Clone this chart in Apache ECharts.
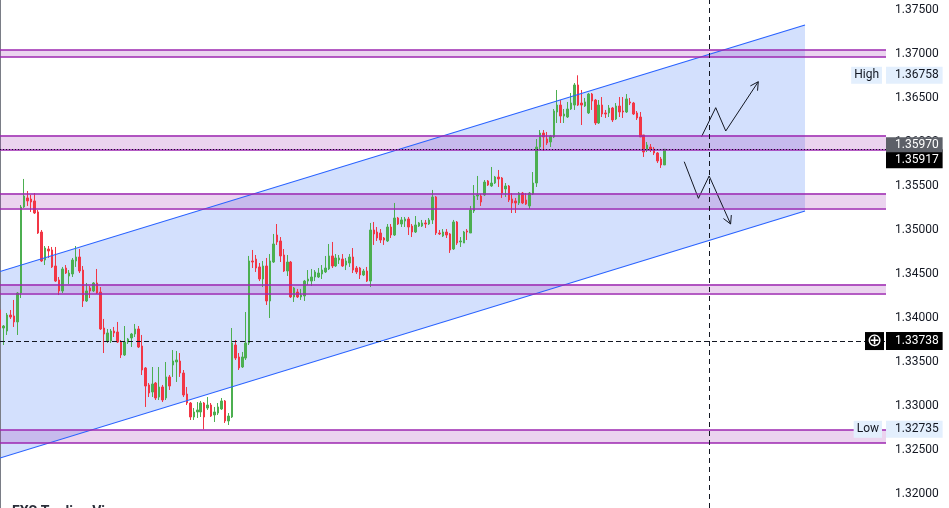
<!DOCTYPE html>
<html><head><meta charset="utf-8">
<script src="https://cdn.jsdelivr.net/npm/echarts@6/dist/echarts.min.js"></script>
<style>html,body{margin:0;padding:0;background:#fff;overflow:hidden}#c{width:949px;height:508px}</style>
</head><body><div id="c"></div>
<script>
const opens=[1.34091,1.33886,1.33852,1.34034,1.34023,1.33955,1.34284,1.35261,1.35364,1.35352,
1.35330,1.35205,1.34977,1.34659,1.34784,1.34773,1.34591,1.34432,1.34307,1.34568,
1.34477,1.34500,1.34648,1.34693,1.34545,1.34193,1.34341,1.34307,1.34398,1.34295,
1.33886,1.33739,1.33739,1.33852,1.33841,1.33727,1.33580,1.33727,1.33773,1.33818,
1.33875,1.33682,1.33432,1.33239,1.33159,1.33261,1.33102,1.33216,1.33091,1.33330,
1.33466,1.33500,1.33511,1.33375,1.33136,1.33034,1.32875,1.32932,1.32932,1.33034,
1.32977,1.33011,1.32898,1.32920,1.32966,1.33057,1.32830,1.32875,1.33693,1.33557,
1.33443,1.33545,1.33716,1.34648,1.34670,1.34580,1.34443,1.34591,1.34193,1.34636,
1.34943,1.34875,1.34716,1.34534,1.34636,1.34239,1.34295,1.34239,1.34250,1.34420,
1.34420,1.34466,1.34466,1.34500,1.34523,1.34557,1.34705,1.34591,1.34659,1.34670,
1.34602,1.34625,1.34693,1.34568,1.34568,1.34489,1.34534,1.34420,1.35000,1.34977,
1.34966,1.34909,1.34875,1.35034,1.34943,1.35136,1.35068,1.35102,1.35125,1.35045,
1.34977,1.35045,1.35045,1.35080,1.35068,1.35114,1.35375,1.34966,1.34932,1.34977,
1.34955,1.34784,1.35091,1.34864,1.34852,1.34989,1.34966,1.35216,1.35386,1.35386,
1.35398,1.35557,1.35500,1.35534,1.35602,1.35591,1.35466,1.35500,1.35352,1.35330,
1.35307,1.35420,1.35341,1.35273,1.35409,1.35534,1.35943,1.36102,1.36034,1.36000,
1.36057,1.36341,1.36420,1.36295,1.36284,1.36375,1.36420,1.36648,1.36443,1.36409,
1.36330,1.36545,1.36477,1.36216,1.36420,1.36330,1.36330,1.36386,1.36261,1.36409,
1.36352,1.36341,1.36455,1.36443,1.36330,1.36284,1.36080,1.35909,1.35943,1.35920,
1.35875,1.35807,1.35739];
const closes=[1.33886,1.33909,1.34034,1.34011,1.33955,1.34284,1.35261,1.35386,1.35330,1.35318,
1.35193,1.34966,1.34648,1.34795,1.34761,1.34580,1.34420,1.34307,1.34557,1.34511,
1.34511,1.34659,1.34693,1.34534,1.34193,1.34307,1.34307,1.34398,1.34284,1.33875,
1.33818,1.33830,1.33852,1.33830,1.33727,1.33580,1.33727,1.33761,1.33818,1.33875,
1.33670,1.33409,1.33227,1.33148,1.33250,1.33091,1.33216,1.33068,1.33330,1.33227,
1.33511,1.33523,1.33375,1.33125,1.33034,1.32875,1.32932,1.32955,1.33034,1.32875,
1.33011,1.32886,1.32932,1.32989,1.33057,1.32830,1.32886,1.33716,1.33545,1.33432,
1.33557,1.33716,1.34648,1.34636,1.34568,1.34443,1.34591,1.34193,1.34648,1.34841,
1.34864,1.34705,1.34534,1.34636,1.34239,1.34341,1.34239,1.34261,1.34420,1.34443,
1.34466,1.34523,1.34511,1.34545,1.34568,1.34705,1.34591,1.34682,1.34682,1.34591,
1.34648,1.34693,1.34545,1.34523,1.34489,1.34534,1.34420,1.35000,1.34955,1.34909,
1.34886,1.34886,1.35034,1.34943,1.35136,1.35068,1.35114,1.35125,1.35034,1.34977,
1.35057,1.35080,1.35080,1.35068,1.35114,1.35375,1.34966,1.34955,1.34977,1.34943,
1.34773,1.35091,1.34852,1.34875,1.34977,1.34977,1.35227,1.35386,1.35398,1.35318,
1.35545,1.35511,1.35534,1.35602,1.35580,1.35420,1.35500,1.35341,1.35307,1.35307,
1.35420,1.35307,1.35295,1.35420,1.35534,1.35943,1.36102,1.36057,1.35989,1.36068,
1.36352,1.36420,1.36295,1.36318,1.36375,1.36443,1.36648,1.36420,1.36420,1.36455,
1.36545,1.36466,1.36216,1.36420,1.36318,1.36318,1.36386,1.36250,1.36409,1.36341,
1.36341,1.36489,1.36443,1.36318,1.36273,1.36057,1.35886,1.35966,1.35909,1.35875,
1.35784,1.35739,1.35917];
const lows=[1.33773,1.33693,1.33807,1.33989,1.33898,1.33807,1.34227,1.35250,1.35273,1.35205,
1.35182,1.34955,1.34636,1.34602,1.34682,1.34568,1.34409,1.34261,1.34284,1.34500,
1.34386,1.34466,1.34580,1.34511,1.34125,1.34182,1.34227,1.34295,1.34273,1.33864,
1.33602,1.33716,1.33716,1.33784,1.33716,1.33545,1.33568,1.33705,1.33670,1.33784,
1.33659,1.33352,1.32989,1.33102,1.33102,1.33068,1.33068,1.33045,1.33068,1.33182,
1.33330,1.33273,1.33330,1.33102,1.33011,1.32841,1.32841,1.32864,1.32875,1.32735,
1.32955,1.32875,1.32818,1.32898,1.32955,1.32807,1.32784,1.32864,1.33523,1.33409,
1.33432,1.33523,1.33693,1.34568,1.34523,1.34420,1.34352,1.34148,1.34000,1.34625,
1.34830,1.34636,1.34523,1.34477,1.34227,1.34182,1.34227,1.34205,1.34193,1.34375,
1.34364,1.34420,1.34455,1.34443,1.34511,1.34545,1.34568,1.34580,1.34614,1.34580,
1.34545,1.34580,1.34511,1.34500,1.34443,1.34477,1.34409,1.34352,1.34830,1.34875,
1.34852,1.34830,1.34864,1.34909,1.34932,1.35057,1.35034,1.35034,1.34943,1.34920,
1.34966,1.35034,1.35034,1.35023,1.35057,1.35068,1.34943,1.34943,1.34920,1.34909,
1.34739,1.34773,1.34830,1.34807,1.34852,1.34886,1.34966,1.35193,1.35341,1.35273,
1.35386,1.35500,1.35489,1.35523,1.35489,1.35364,1.35375,1.35318,1.35193,1.35193,
1.35284,1.35295,1.35284,1.35239,1.35398,1.35489,1.35909,1.35898,1.35966,1.35943,
1.36045,1.36216,1.36216,1.36216,1.36273,1.36364,1.36364,1.36409,1.36193,1.36398,
1.36318,1.36364,1.36193,1.36205,1.36284,1.36273,1.36284,1.36227,1.36250,1.36284,
1.36273,1.36330,1.36420,1.36307,1.36250,1.36057,1.35830,1.35886,1.35886,1.35852,
1.35761,1.35705,1.35739];
const highs=[1.34227,1.33920,1.34057,1.34091,1.34205,1.34295,1.35284,1.35580,1.35443,1.35398,
1.35420,1.35227,1.35000,1.34818,1.34818,1.34807,1.34807,1.34466,1.34580,1.34602,
1.34545,1.34682,1.34818,1.34784,1.34591,1.34398,1.34364,1.34409,1.34557,1.34352,
1.33989,1.33875,1.33875,1.33898,1.33955,1.33750,1.33909,1.33773,1.33830,1.33932,
1.33909,1.33807,1.33443,1.33261,1.33443,1.33273,1.33443,1.33239,1.33500,1.33352,
1.33636,1.33625,1.33602,1.33409,1.33216,1.33045,1.32977,1.33045,1.33057,1.33045,
1.33102,1.33034,1.32989,1.33034,1.33091,1.33068,1.32920,1.33886,1.33750,1.33602,
1.33614,1.34068,1.34705,1.34773,1.34716,1.34625,1.34648,1.34682,1.34727,1.34955,
1.35068,1.34920,1.34784,1.34716,1.34648,1.34352,1.34330,1.34330,1.34432,1.34545,
1.34557,1.34545,1.34568,1.34602,1.34705,1.34841,1.34864,1.34727,1.34716,1.34727,
1.34682,1.34727,1.34795,1.34591,1.34580,1.34557,1.34580,1.35080,1.35091,1.35034,
1.35011,1.34920,1.35068,1.35068,1.35307,1.35148,1.35148,1.35148,1.35148,1.35068,
1.35159,1.35091,1.35114,1.35114,1.35136,1.35455,1.35386,1.35000,1.35011,1.35011,
1.34966,1.35114,1.35102,1.34920,1.34989,1.35011,1.35273,1.35511,1.35614,1.35409,
1.35568,1.35568,1.35716,1.35614,1.35682,1.35602,1.35534,1.35511,1.35420,1.35364,
1.35432,1.35432,1.35420,1.35432,1.35659,1.36034,1.36136,1.36136,1.36114,1.36080,
1.36375,1.36591,1.36477,1.36375,1.36455,1.36557,1.36670,1.36758,1.36591,1.36500,
1.36557,1.36557,1.36489,1.36477,1.36511,1.36364,1.36420,1.36398,1.36443,1.36511,
1.36511,1.36545,1.36500,1.36455,1.36352,1.36341,1.36080,1.36000,1.35977,1.35943,
1.35886,1.35830,1.35920];

const slotCount = 257;
const priceTicks = [1.320,1.325,1.330,1.335,1.340,1.345,1.350,1.355,1.360,1.365,1.370,1.375];
const zones = [[1.37045,1.36969],[1.36076,1.35915],[1.35417,1.35247],[1.34383,1.34281],[1.32727,1.32580]];
const channelUpper = [[0,1.34528],[232.6,1.37330]];
const channelLower = [[0,1.32409],[232.6,1.35216]];
const arrowUp = [[202.7,1.36060],[206.8,1.36390],[209.7,1.36125],[219.1,1.36685]];
const arrowDown = [[197.7,1.35776],[201.8,1.35360],[204.9,1.35614],[211.1,1.35068]];
const lastPrice = 1.35917, refPrice = 1.35970, crossPrice = 1.33738;
const highPrice = 1.36758, lowPrice = 1.32735, crossX = 205;

const FONT = 'Roboto';
const categories = Array.from({length: slotCount}, (_, i) => String(i));
const candleData = opens.map((o, i) => [o, closes[i], lows[i], highs[i]]);

function valueLabel(txt, bg, fg, extra) {
  return Object.assign({show: true, position: 'end', distance: 0, formatter: txt,
    backgroundColor: bg, color: fg, fontFamily: FONT, fontSize: 12, lineHeight: 14,
    padding: [2, 4, 1, 9]}, extra || {});
}
function sideLabel(txt, bg, fg, extra) {
  return Object.assign({show: true, position: 'insideEnd', distance: 4, formatter: txt,
    backgroundColor: bg, color: fg, fontFamily: FONT, fontSize: 12, lineHeight: 14,
    padding: [2, 3, 1, 3]}, extra || {});
}
const hidden = {width: 1, color: 'rgba(0,0,0,0)', type: 'solid'};
const zoneEdge = {width: 1.5, color: '#9c27b0', type: 'solid'};

const levelLines = [];
zones.forEach(z => {
  levelLines.push({yAxis: z[0], lineStyle: zoneEdge, label: {show: false}});
  levelLines.push({yAxis: z[1], lineStyle: zoneEdge, label: {show: false}});
});
levelLines.push(
  {xAxis: crossX, lineStyle: {type: [5, 4], color: '#131722', width: 1}, label: {show: false}},
  {yAxis: lastPrice, lineStyle: {type: [1, 2], color: '#131722', width: 1},
    label: valueLabel(lastPrice.toFixed(5), '#000000', '#ffffff', {verticalAlign: 'top', padding: [4, 4, 1, 9]})},
  {yAxis: refPrice, lineStyle: hidden,
    label: valueLabel(refPrice.toFixed(5), '#5d6068', '#ffffff', {padding: [1, 4, 0, 9]})},
  {yAxis: crossPrice, lineStyle: {type: [5, 3], color: '#131722', width: 1},
    label: valueLabel(crossPrice.toFixed(5), '#000000', '#ffffff', {padding: [3, 4, 1, 9]})},
  {yAxis: crossPrice, lineStyle: hidden,
    label: sideLabel('⊕', '#000000', '#ffffff', {distance: 2, fontSize: 18, lineHeight: 18, padding: [0, 2, 0, 2]})},
  {yAxis: highPrice, lineStyle: hidden, label: valueLabel(highPrice.toFixed(5), '#e3effd', '#131722')},
  {yAxis: highPrice, lineStyle: hidden, label: sideLabel('High', '#e3effd', '#131722')},
  {yAxis: lowPrice, lineStyle: hidden, label: valueLabel(lowPrice.toFixed(5), '#e3effd', '#131722')},
  {yAxis: lowPrice, lineStyle: hidden, label: sideLabel('Low', '#e3effd', '#131722')}
);

const chart = echarts.init(document.getElementById('c'));
chart.setOption({
  animation: false,
  backgroundColor: '#ffffff',
  title: {text: 'FXS Trading Viz', left: 7, top: 500,
    textStyle: {fontSize: 14, fontWeight: 'bold', color: '#2a2e39', fontFamily: FONT}},
  grid: {left: 0, right: 63, top: 0, bottom: 0},
  xAxis: [
    {type: 'category', data: categories, boundaryGap: false, show: false},
    {type: 'value', min: 0, max: slotCount - 1, show: false}
  ],
  yAxis: {
    type: 'value', position: 'right', min: 1.318409, max: 1.376136,
    axisLine: {show: true, lineStyle: {color: '#7a7d86', width: 1}},
    axisTick: {show: false}, splitLine: {show: false},
    axisLabel: {customValues: priceTicks, formatter: v => v.toFixed(5),
      color: '#131722', fontFamily: FONT, fontSize: 12, margin: 9}
  },
  series: [
    {
      type: 'custom', xAxisIndex: 1, z: 0, silent: true, data: [0],
      renderItem: (params, api) => {
        const pts = [api.coord(channelUpper[0]), api.coord(channelUpper[1]),
                     api.coord(channelLower[1]), api.coord(channelLower[0])];
        return {type: 'polygon', shape: {points: pts}, style: {fill: 'rgba(33,100,243,0.2)'}};
      }
    },
    {
      type: 'line', xAxisIndex: 1, data: channelLower, symbol: 'none', z: 3, silent: true,
      lineStyle: {color: '#2962ff', width: 1.2},
      markArea: {
        silent: true, precision: 5,
        itemStyle: {color: 'rgba(156,39,176,0.2)', borderWidth: 0},
        data: zones.map(z => [{yAxis: z[0]}, {yAxis: z[1]}])
      }
    },
    {
      type: 'candlestick', data: candleData, barWidth: 2, z: 2,
      itemStyle: {color: '#4caf50', color0: '#f23645', borderColor: '#4caf50', borderColor0: '#f23645', borderWidth: 1}
    },
    {
      type: 'line', xAxisIndex: 1, data: channelUpper, symbol: 'none', z: 3, silent: true, clip: false,
      lineStyle: {color: '#2962ff', width: 1.2},
      markLine: {silent: true, symbol: ['none', 'none'], animation: false, precision: 5, data: levelLines}
    },
    {
      type: 'custom', xAxisIndex: 1, z: 4, silent: true, data: [0],
      renderItem: (params, api) => {
        const children = [];
        [arrowUp, arrowDown].forEach(path => {
          const pts = path.map(p => api.coord(p));
          children.push({type: 'polyline', shape: {points: pts}, style: {stroke: '#131722', lineWidth: 1, fill: 'none'}});
          const e = pts[pts.length - 1], s = pts[pts.length - 2];
          const ang = Math.atan2(e[1] - s[1], e[0] - s[0]);
          const L = 9, a = 0.5;
          const p1 = [e[0] - L * Math.cos(ang - a), e[1] - L * Math.sin(ang - a)];
          const p2 = [e[0] - L * Math.cos(ang + a), e[1] - L * Math.sin(ang + a)];
          children.push({type: 'polyline', shape: {points: [p1, e, p2]}, style: {stroke: '#131722', lineWidth: 1, fill: 'none'}});
        });
        return {type: 'group', children};
      }
    }
  ]
});
</script>
</body></html>
